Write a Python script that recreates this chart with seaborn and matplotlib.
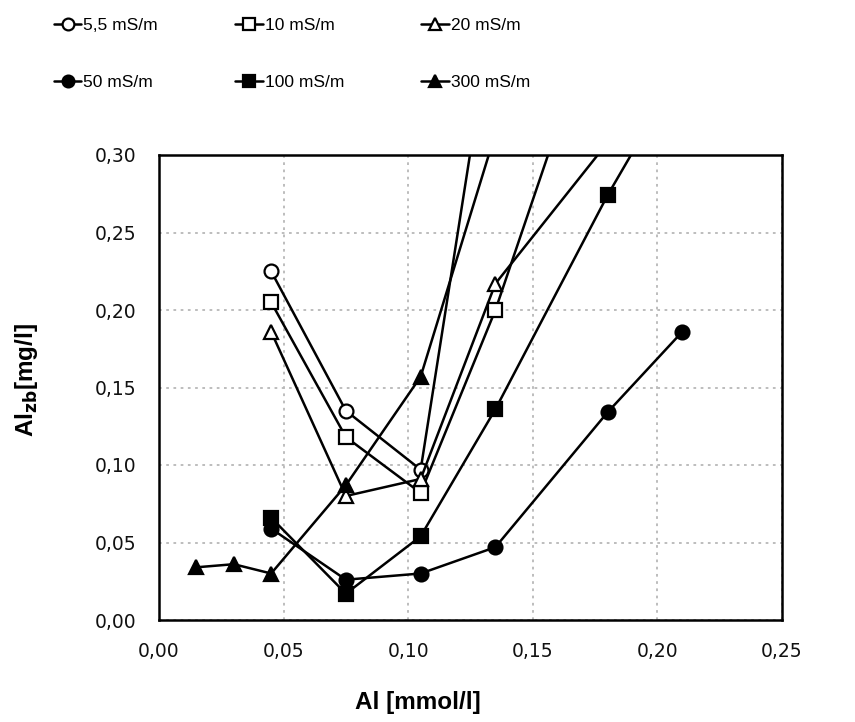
import matplotlib
matplotlib.use("Agg")
import matplotlib.pyplot as plt
import seaborn as sns
import numpy as np
import pandas as pd
from matplotlib.ticker import FuncFormatter

# ---- data ----
labels = ["5,5 mS/m", "10 mS/m", "20 mS/m", "50 mS/m", "100 mS/m", "300 mS/m"]
x_55 = [0.045, 0.075, 0.105, 0.135]
y_55 = [0.225, 0.135, 0.097, 0.405]
x_10 = [0.045, 0.075, 0.105, 0.135, 0.18]
y_10 = [0.205, 0.118, 0.082, 0.200, 0.413]
x_20 = [0.045, 0.075, 0.105, 0.135, 0.18]
y_20 = [0.186, 0.080, 0.091, 0.217, 0.308]
x_50 = [0.045, 0.075, 0.105, 0.135, 0.18, 0.21]
y_50 = [0.059, 0.026, 0.030, 0.047, 0.134, 0.186]
x_100 = [0.045, 0.075, 0.105, 0.135, 0.18, 0.21]
y_100 = [0.066, 0.017, 0.054, 0.136, 0.274, 0.357]
x_300 = [0.015, 0.03, 0.045, 0.075, 0.105, 0.135]
y_300 = [0.034, 0.036, 0.030, 0.087, 0.157, 0.314]
x_ticks = [0.00, 0.05, 0.10, 0.15, 0.20, 0.25]
y_ticks = [0.00, 0.05, 0.10, 0.15, 0.20, 0.25, 0.30]

series = [
    (labels[0], x_55, y_55, "o", "white"),
    (labels[1], x_10, y_10, "s", "white"),
    (labels[2], x_20, y_20, "^", "white"),
    (labels[3], x_50, y_50, "o", "black"),
    (labels[4], x_100, y_100, "s", "black"),
    (labels[5], x_300, y_300, "^", "black"),
]

sns.set_style("white")
plt.rcParams["font.family"] = ["Liberation Sans", "DejaVu Sans"]
plt.rcParams["text.color"] = "black"
plt.rcParams["axes.labelcolor"] = "black"
plt.rcParams["xtick.color"] = "black"
plt.rcParams["ytick.color"] = "black"

fig = plt.figure(figsize=(8.55, 7.22), dpi=100)
ax = fig.add_axes([159/855, 1-620/722, (782-159)/855, (620-155)/722])

handles = {}
for lab, xs, ys, mk, fc in series:
    df = pd.DataFrame({"x": xs, "y": ys})
    sns.lineplot(data=df, x="x", y="y", ax=ax, color="black", linewidth=1.8,
                 marker=mk, markersize=10 if mk != "^" else 10.5,
                 markerfacecolor=fc, markeredgecolor="black",
                 markeredgewidth=1.6, label=lab, legend=False)
    handles[lab] = ax.lines[-1]

ax.set_xlim(0, 0.25)
ax.set_ylim(0, 0.30)
ax.set_xticks(x_ticks)
ax.set_yticks(y_ticks)
fmt = FuncFormatter(lambda v, p: f"{v:.2f}".replace(".", ","))
ax.xaxis.set_major_formatter(fmt)
ax.yaxis.set_major_formatter(fmt)
ax.tick_params(axis="both", direction="out", length=5, width=1.8,
               labelsize=13.5, colors="black")
ax.tick_params(axis="x", pad=11)
ax.tick_params(axis="y", pad=11)
for t in ax.get_xticklabels() + ax.get_yticklabels():
    t.set_fontfamily(["DejaVu Sans"])
    t.set_color("#111111")
ax.grid(True, color="#b8b8b8", linestyle=(0, (1.5, 2.5)), linewidth=1.3)
for sp in ax.spines.values():
    sp.set_color("black")
    sp.set_linewidth(1.8)

ax.set_xlabel("")
ax.set_ylabel("")
fig.text(418/855, 1-703/722, "Al [mmol/l]", fontsize=17.5, fontweight="bold",
         ha="center", va="center", color="black")
fig.text(27/855, 1-380/722, r"Al$_{\mathbf{zb}}$[mg/l]", fontsize=17.5,
         fontweight="bold", ha="center", va="center", rotation=90,
         color="black")

order = [labels[0], labels[3], labels[1], labels[4], labels[2], labels[5]]
leg = fig.legend([handles[l] for l in order], order, ncol=3,
                 loc="upper left", bbox_to_anchor=(38/855, 1-2/722),
                 frameon=False, fontsize=12.5, handlelength=1.6,
                 handletextpad=0.1, labelspacing=2.4, columnspacing=4.45,
                 markerscale=0.85, labelcolor="black")

fig.savefig("out.png", dpi=100)
